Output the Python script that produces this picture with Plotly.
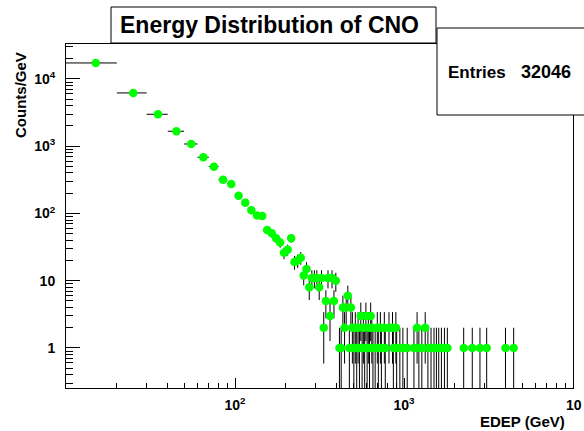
import numpy as np
import plotly.graph_objects as go

# ---------------- data ----------------
title_text = "Energy Distribution of CNO"
x_title = "EDEP (GeV)"
y_title = "Counts/GeV"
stats_label = "Entries"
stats_value = "32046"
bin_width = 10  # GeV

edep_centers = [
    15, 25, 35, 45, 55, 65, 75, 85, 95, 105, 115, 125, 135, 145, 155, 165, 175,
    185, 195, 205, 215, 225, 235, 245, 255, 265, 275, 285, 295, 305, 315, 325,
    335, 345, 355, 365, 375, 385, 395,
    415, 425, 435, 445, 455, 465, 475, 485, 495, 505, 515, 525, 535, 545, 555,
    565, 575, 585, 595, 605, 615, 625, 635, 645, 655, 675, 695, 705, 725, 735,
    765, 775, 815, 855, 865, 895, 905, 945, 985, 1045, 1145, 1195, 1225, 1275,
    1335, 1385, 1445, 1505, 1555, 1605, 1665, 1735, 1805, 2255, 2535, 2815,
    3085, 3985, 4455,
]
counts = [
    17300, 6200, 2985, 1670, 1080, 685, 497, 318, 275, 184, 145, 112, 93, 92,
    57, 51, 43, 37, 26, 29, 43, 19, 20, 22, 12, 15, 8, 11, 11, 11, 8, 11,
    2, 5, 11, 3, 11, 5, 10,
    1, 1, 4, 2, 4, 6, 1, 4, 2, 1, 2, 1, 2, 1, 3,
    1, 2, 1, 3, 1, 2, 1, 3, 2, 1, 1, 2, 1, 2, 1,
    2, 1, 2, 2, 1, 2, 1, 1, 1, 1, 1, 2, 1, 1,
    2, 1, 1, 1, 1, 1, 1, 1, 1, 1, 1, 1,
    1, 1, 1,
]

x_tickvals = [100, 1000]
x_ticktext = ["10<sup>2</sup>", "10<sup>3</sup>"]
x_edge_label = "10"          # the 10^4 label, cut off at the canvas edge
x_edge_value = 10000
y_tickvals = [1, 10, 100, 1000, 10000]
y_ticktext = ["1", "10", "10<sup>2</sup>", "10<sup>3</sup>", "10<sup>4</sup>"]

# ---------------- figure ----------------
W, H = 584, 431
L, R, T, B = 66, 11, 44, 43
PW, PH = W - L - R, H - T - B


def px2x(px):
    return (px - L) / PW


def py2y(py):
    return (H - B - py) / PH


yerr = np.sqrt(np.array(counts, dtype=float))
xerr = [bin_width / 2.0] * len(edep_centers)

fig = go.Figure()
fig.add_trace(go.Scatter(
    x=edep_centers, y=counts, mode="markers",
    marker=dict(symbol="circle", size=8.5, color="#00ff00", line=dict(width=0)),
    error_y=dict(type="data", array=yerr, symmetric=True, color="black",
                 thickness=1, width=0),
    error_x=dict(type="data", array=xerr, symmetric=True, color="black",
                 thickness=1, width=0),
    hoverinfo="skip",
))

x_minor = [m * 10 ** d for d in range(1, 4) for m in range(2, 10)]
y_minor = [m * 10.0 ** d for d in range(-1, 5) for m in range(2, 10)]

fig.update_xaxes(
    type="log", range=[1, 4], showgrid=False, zeroline=False,
    showline=True, linecolor="black", linewidth=1, mirror=True,
    ticks="inside", ticklen=10, tickwidth=1, tickcolor="black",
    tickmode="array", tickvals=x_tickvals + [x_edge_value],
    ticktext=[f"<b>{t}</b>" for t in x_ticktext] + [""],
    tickfont=dict(size=14, color="black"), ticklabelstandoff=4,
    minor=dict(ticks="inside", ticklen=5, tickwidth=1, tickcolor="black",
               tickmode="array", tickvals=x_minor, showgrid=False),
)
fig.update_yaxes(
    type="log", range=[-0.595, 4.52], showgrid=False, zeroline=False,
    showline=True, linecolor="black", linewidth=1, mirror=True,
    ticks="inside", ticklen=14, tickwidth=1, tickcolor="black",
    tickmode="array", tickvals=y_tickvals,
    ticktext=[f"<b>{t}</b>" for t in y_ticktext],
    tickfont=dict(size=14, color="black"), ticklabelstandoff=7,
    minor=dict(ticks="inside", ticklen=7, tickwidth=1, tickcolor="black",
               tickmode="array", tickvals=y_minor, showgrid=False),
)

font_family = "Liberation Sans, Arial, Helvetica, sans-serif"
sx0, sx1, sy0, sy1 = px2x(437), px2x(584), py2y(115), py2y(28)
fig.update_layout(
    width=W, height=H,
    margin=dict(l=L, r=R, t=T, b=B, pad=0),
    paper_bgcolor="white", plot_bgcolor="white",
    showlegend=False,
    font=dict(family=font_family, color="black"),
    shapes=[
        # title box
        dict(type="rect", xref="paper", yref="paper",
             x0=px2x(111), x1=px2x(436), y0=py2y(43), y1=py2y(7),
             line=dict(color="black", width=1), fillcolor="white", layer="above"),
        # stats box (runs off the right edge of the canvas)
        dict(type="rect", xref="paper", yref="paper",
             x0=sx0, x1=sx1, y0=sy0, y1=sy1,
             line=dict(width=0), fillcolor="white", layer="above"),
        dict(type="path", xref="paper", yref="paper",
             path=f"M {sx1} {sy1} L {sx0} {sy1} L {sx0} {sy0} L {sx1} {sy0}",
             line=dict(color="black", width=1), layer="above"),
    ],
    annotations=[
        dict(text=f"<b>{title_text}</b>", xref="paper", yref="paper",
             x=px2x(269), y=py2y(25), xanchor="center", yanchor="middle",
             showarrow=False, font=dict(size=23, color="black", family=font_family)),
        dict(text=f"<b>{stats_label}</b>", xref="paper", yref="paper",
             x=px2x(446), y=py2y(72), xanchor="left", yanchor="middle",
             showarrow=False, font=dict(size=17, color="black", family=font_family)),
        dict(text=f"<b>{stats_value}</b>", xref="paper", yref="paper",
             x=px2x(573), y=py2y(72), xanchor="right", yanchor="middle",
             showarrow=False, font=dict(size=18, color="black", family=font_family)),
        dict(text=f"<b>{y_title}</b>", xref="paper", yref="paper",
             x=px2x(20), y=py2y(95), xanchor="center", yanchor="middle",
             textangle=-90, showarrow=False,
             font=dict(size=15, color="black", family=font_family)),
        dict(text=f"<b>{x_title}</b>", xref="paper", yref="paper",
             x=px2x(567), y=py2y(421), xanchor="right", yanchor="middle",
             showarrow=False, font=dict(size=15, color="black", family=font_family)),
        dict(text=f"<b>{x_edge_label}</b>", xref="x", yref="paper",
             x=np.log10(x_edge_value), y=py2y(405), xanchor="center",
             yanchor="middle", xshift=1, showarrow=False,
             font=dict(size=14, color="black", family=font_family)),
    ],
)

fig.write_html(
    "out.html",
    config={"displayModeBar": False},
    post_script="document.body.style.margin='0';document.body.style.overflow='hidden';",
)
